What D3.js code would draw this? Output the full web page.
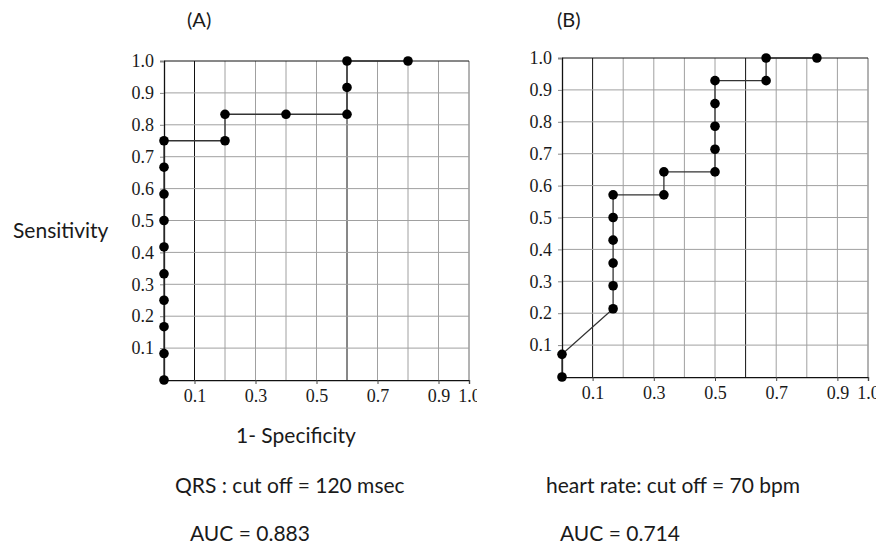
<!DOCTYPE html>
<meta charset="utf-8">
<script src="https://d3js.org/d3.v7.min.js"></script>
<style>
  body { margin: 0; background: #fff; }
  .lbl { font-family: Lato, "Open Sans", sans-serif; fill: #1a1a1a; }
  .tick text { font-family: "Liberation Serif", "DejaVu Serif", serif; font-size: 18px; fill: #1a1a1a; }
</style>
<body>
<div id="chart"></div>
<script>
// ROC points (1 - specificity, sensitivity)
var fprA = [0, 0, 0, 0, 0, 0, 0, 0, 0, 0, 0.2, 0.2, 0.4, 0.6, 0.6, 0.6, 0.8];
var tprA = [0, 0.083, 0.167, 0.25, 0.333, 0.417, 0.5, 0.583, 0.667, 0.75, 0.75, 0.833, 0.833, 0.833, 0.917, 1.0, 1.0];

var fprB = [0, 0, 0.167, 0.167, 0.167, 0.167, 0.167, 0.167, 0.333, 0.333, 0.5, 0.5, 0.5, 0.5, 0.5, 0.667, 0.667, 0.833];
var tprB = [0, 0.071, 0.214, 0.286, 0.357, 0.429, 0.5, 0.571, 0.571, 0.643, 0.643, 0.714, 0.786, 0.857, 0.929, 0.929, 1.0, 1.0];

var gridVals = [0.1, 0.2, 0.3, 0.4, 0.5, 0.6, 0.7, 0.8, 0.9, 1.0];
var darkGrid = [0.1, 0.6];
var xTicks = [0.1, 0.3, 0.5, 0.7, 0.9, 1.0];
var yTicks = [0.1, 0.2, 0.3, 0.4, 0.5, 0.6, 0.7, 0.8, 0.9, 1.0];

var svg = d3.select("#chart").append("svg")
    .attr("width", 890)
    .attr("height", 546);

function drawPanel(id, fpr, tpr, box, title, caption, auc) {
    var x = d3.scaleLinear().domain([0, 1]).range([box.left, box.right]);
    var y = d3.scaleLinear().domain([0, 1]).range([box.bottom, box.top]);
    var g = svg.append("g");

    // grid
    g.selectAll(".vgrid").data(gridVals).enter().append("line")
        .attr("x1", d => x(d)).attr("x2", d => x(d))
        .attr("y1", y(0)).attr("y2", y(1))
        .attr("stroke", d => darkGrid.indexOf(d) >= 0 ? "#111" : (d == 1.0 ? "#666" : "#a0a0a0"))
        .attr("stroke-width", 1);
    g.selectAll(".hgrid").data(gridVals).enter().append("line")
        .attr("x1", x(0)).attr("x2", x(1))
        .attr("y1", d => y(d)).attr("y2", d => y(d))
        .attr("stroke", d => d == 1.0 ? "#111" : "#a0a0a0")
        .attr("stroke-width", 1);

    // axes
    svg.append("clipPath").attr("id", "clip" + id)
        .append("rect").attr("x", 0).attr("y", 0)
        .attr("width", box.right + 8).attr("height", 546);

    var ax = g.append("g")
        .attr("transform", "translate(0," + y(0) + ")")
        .attr("clip-path", "url(#clip" + id + ")")
        .call(d3.axisBottom(x).tickValues(xTicks).tickSize(4).tickPadding(5).tickFormat(d3.format(".1f")));
    ax.select(".domain").attr("stroke", "#111").attr("stroke-width", 1.3);
    ax.selectAll(".tick line").attr("stroke", "#444");

    var ay = g.append("g")
        .attr("transform", "translate(" + x(0) + ",0)")
        .call(d3.axisLeft(y).tickValues(yTicks).tickSize(4).tickPadding(6).tickFormat(d3.format(".1f")));
    ay.select(".domain").attr("stroke", "#111").attr("stroke-width", 1.3);
    ay.selectAll(".tick line").attr("stroke", "#888");

    // curve
    var pts = fpr.map((f, i) => [f, tpr[i]]);
    g.append("path").datum(pts)
        .attr("fill", "none")
        .attr("stroke", "#333")
        .attr("stroke-width", 1.3)
        .attr("d", d3.line().x(d => x(d[0])).y(d => y(d[1])));
    g.selectAll(".dot").data(pts).enter().append("circle")
        .attr("cx", d => x(d[0])).attr("cy", d => y(d[1]))
        .attr("r", 4.8).attr("fill", "#000");

    // texts
    svg.append("text").attr("class", "lbl").attr("x", title.x).attr("y", 27)
        .style("font-size", "20px").text(title.t);
    svg.append("text").attr("class", "lbl").attr("x", caption.x).attr("y", 493)
        .style("font-size", "21px").text(caption.t);
    svg.append("text").attr("class", "lbl").attr("x", auc.x).attr("y", 541)
        .style("font-size", "21px").text(auc.t);
}

drawPanel("A", fprA, tprA, {left: 164, right: 469, top: 61, bottom: 380},
    {x: 187, t: "(A)"}, {x: 175, t: "QRS : cut off = 120 msec"}, {x: 190, t: "AUC = 0.883"});
drawPanel("B", fprB, tprB, {left: 562, right: 868, top: 58, bottom: 377},
    {x: 557, t: "(B)"}, {x: 546, t: "heart rate: cut off = 70 bpm"}, {x: 560, t: "AUC = 0.714"});

svg.append("text").attr("class", "lbl").attr("x", 13).attr("y", 238)
    .style("font-size", "21px").text("Sensitivity");
svg.append("text").attr("class", "lbl").attr("x", 236).attr("y", 443)
    .style("font-size", "21px").text("1- Specificity");
</script>
</body>
